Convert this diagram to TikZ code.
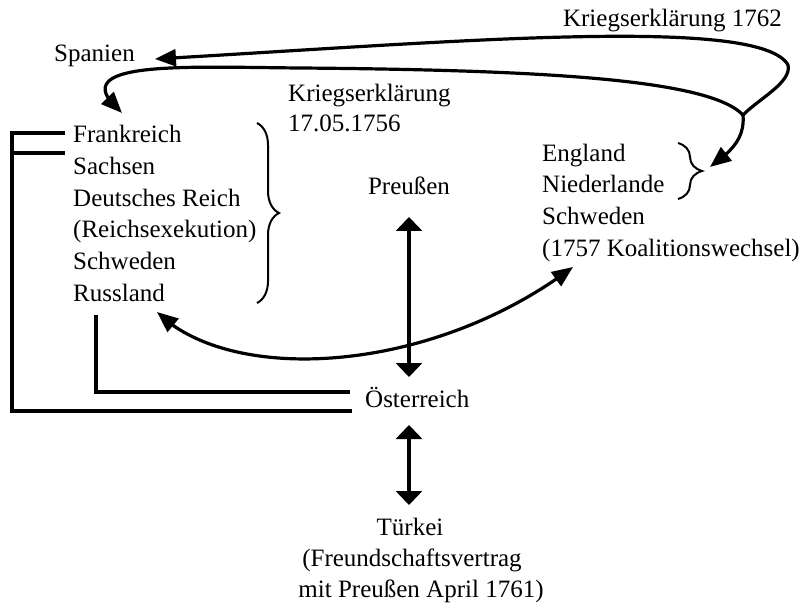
\documentclass[tikz,border=0pt]{standalone}
\usepackage{fontspec}
\setmainfont{Liberation Serif}
\usetikzlibrary{arrows.meta,bending,decorations.pathreplacing,calc}
\begin{document}
\begin{tikzpicture}[x=1pt,y=-1pt,
  lbl/.style={font=\fontsize{25}{32}\selectfont, inner sep=0pt, anchor=base west},
  lblc/.style={lbl, anchor=base},
  conn/.style={line width=3.2pt},
  dbl/.style={conn, {Triangle[length=14pt,width=26pt]}-{Triangle[length=14pt,width=26pt]}},
  carr/.style={conn, -{Triangle[length=21pt,width=17pt]}},
  carr2/.style={conn, {Triangle[length=21pt,width=17pt]}-{Triangle[length=21pt,width=17pt]}},
  bracket/.style={line width=3.6pt},
  brc/.style={line width=2pt, decorate, decoration={brace, amplitude=#1}}]
\fill[white] (0,0) rectangle (808,609);
\useasboundingbox (0,0) rectangle (808,609);

% texts
\node[lbl] (spanien) at (54,62) {Spanien};
\node[lbl,anchor=base east] (ke1762) at (782,27) {Kriegserklärung 1762};
\node[lbl] (ke1756a) at (288,102) {Kriegserklärung};
\node[lbl] (ke1756b) at (288,132) {17.05.1756};
\node[lbl] (frank) at (73,143) {Frankreich};
\node[lbl] (sachsen) at (73,175) {Sachsen};
\node[lbl] (dr) at (73,207) {Deutsches Reich};
\node[lbl] (rex) at (73,238) {(Reichsexekution)};
\node[lbl] (schwedenL) at (73,270) {Schweden};
\node[lbl] (russland) at (73,302) {Russland};
\node[lblc] (preussen) at (409,195) {Preußen};
\node[lbl] (england) at (542,162) {England};
\node[lbl] (nl) at (542,193) {Niederlande};
\node[lbl] (schwedenR) at (542,225) {Schweden};
\node[lbl] (koal) at (542,257) {(1757 Koalitionswechsel)};
\node[lbl] (oest) at (365,407) {Österreich};
\node[lblc] (tuerkei) at (410,535) {Türkei};
\node[lblc] (fv) at (412,566) {(Freundschaftsvertrag};
\node[lblc] (mit) at (421,597) {mit Preußen April 1761)};

% braces
\draw[brc=22pt] ($(frank.base west)+(184,-20)$) -- ($(russland.base west)+(184,1)$);
\draw[brc=24pt] ($(england.base west)+(136,-19)$) -- ($(nl.base west)+(136,6)$);

% war declarations
\coordinate (J) at (743,115);
\draw[carr] (J) .. controls (760,98) and (792,82) .. (788,65)
  .. controls (760,15) and (450,42) .. ($(spanien.base east)+(20,-3)$);
\draw[carr] (J) .. controls (710,80) and (550,70) .. (300,68)
  .. controls (180,67) and (60,60) .. ($(frank.base west)+(49,-30)$);
\draw[carr] (J) .. controls (745,140) and (730,152) .. ($(england.base west)+(168,5)$);

% Russland - England
\draw[carr2] ($(russland.base west)+(84,10)$) .. controls (230,385) and (430,375) .. ($(koal.base west)+(31,10)$);

% vertical arrows
\draw[dbl] ($(preussen.base)+(0,22)$) -- ($(preussen.base |- oest.base)+(0,-30)$);
\draw[dbl] ($(preussen.base |- oest.base)+(0,18)$) -- ($(preussen.base |- tuerkei.base)+(0,-30)$);

% alliance lines
\draw[bracket] ($(frank.base west)+(-8,-10)$) -- ++(-53,0) |- ($(oest.base west)+(-13,4)$);
\draw[bracket] ($(frank.base west)+(-8,10)$) -- ++(-53,0);
\draw[bracket] ($(russland.base west)+(23,13)$) |- ($(oest.base west)+(-15,-15)$);
\end{tikzpicture}
\end{document}
